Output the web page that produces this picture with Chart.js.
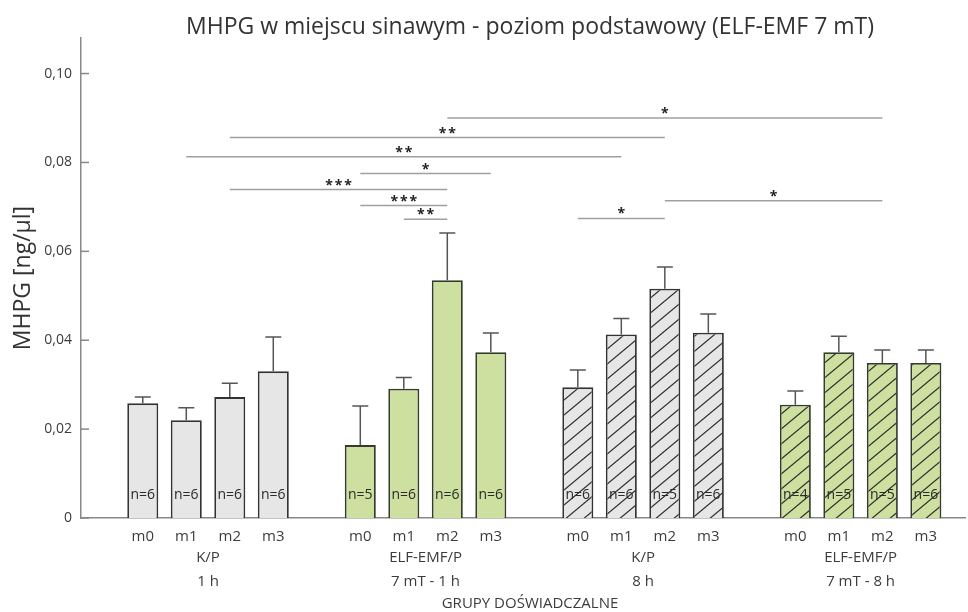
<!DOCTYPE html>
<html>
<head>
<meta charset="utf-8">
<script src="https://cdn.jsdelivr.net/npm/chart.js@4"></script>
<style>
  html, body { margin: 0; background: #fff; }
  #wrap { width: 968px; height: 612px; }
</style>
</head>
<body>
<div id="wrap"><canvas id="chartMHPG"></canvas></div>
<script>
// dane
const podgrupy = ['m0', 'm1', 'm2', 'm3'];
const grupyNazwy = ['K/P', 'ELF-EMF/P', 'K/P', 'ELF-EMF/P'];
const grupyCzas = ['1 h', '7 mT - 1 h', '8 h', '7 mT - 8 h'];

const sredniaKP1 = [0.0258, 0.0220, 0.0272, 0.0330];
const sredniaEMF1 = [0.0164, 0.0291, 0.0535, 0.0373];
const sredniaKP8 = [0.0294, 0.0413, 0.0516, 0.0417];
const sredniaEMF8 = [0.0255, 0.0373, 0.0349, 0.0349];

const sdKP1 = [0.0014, 0.0028, 0.0031, 0.0077];
const sdEMF1 = [0.0088, 0.0025, 0.0106, 0.0043];
const sdKP8 = [0.0039, 0.0036, 0.0049, 0.0042];
const sdEMF8 = [0.0031, 0.0036, 0.0029, 0.0029];

const nKP1 = [6, 6, 6, 6];
const nEMF1 = [5, 6, 6, 6];
const nKP8 = [6, 6, 5, 6];
const nEMF8 = [4, 5, 5, 6];

const yTicks = [0, 0.02, 0.04, 0.06, 0.08, 0.10];

// istotnosc: [grupa, podgrupa] od - do
const istotnoscOd = [[1, 2], [0, 2], [0, 1], [1, 0], [0, 2], [1, 0], [1, 1], [2, 2], [2, 0]];
const istotnoscDo = [[3, 2], [2, 2], [2, 1], [1, 3], [1, 2], [1, 2], [1, 2], [3, 2], [2, 2]];
const istotnoscPoziom = [0.0900, 0.0856, 0.0813, 0.0775, 0.0739, 0.0703, 0.0672, 0.0714, 0.0674];
const istotnoscZnak = ['*', '**', '**', '*', '***', '***', '**', '*', '*'];

const FONT = '"Open Sans", "DejaVu Sans", sans-serif';
const slot = (g, k) => g * 5 + k;

function kreskowanie(kolor) {
    const w = 18, h = 15;
    const c = document.createElement('canvas');
    c.width = w; c.height = h;
    const ctx = c.getContext('2d');
    ctx.fillStyle = kolor;
    ctx.fillRect(0, 0, w, h);
    ctx.strokeStyle = '#2a2a2a';
    ctx.lineWidth = 1.2;
    for (let k = -1; k <= 1; k++) {
        ctx.beginPath();
        ctx.moveTo(-1, h + k * h + h / w);
        ctx.lineTo(w + 1, k * h - h / w);
        ctx.stroke();
    }
    return document.createElement('canvas').getContext('2d').createPattern(c, 'repeat');
}

const serie = [
    { mean: sredniaKP1, sd: sdKP1, n: nKP1, fill: '#e6e6e6', border: '#333', hatch: false },
    { mean: sredniaEMF1, sd: sdEMF1, n: nEMF1, fill: '#cde0a0', border: '#343b2e', hatch: false },
    { mean: sredniaKP8, sd: sdKP8, n: nKP8, fill: '#e6e6e6', border: '#333', hatch: true },
    { mean: sredniaEMF8, sd: sdEMF8, n: nEMF8, fill: '#cde0a0', border: '#343b2e', hatch: true }
];

const xSloty = [];
serie.forEach((s, g) => s.mean.forEach((_, k) => xSloty.push(slot(g, k))));

const dodatki = {
    id: 'dodatki',
    afterDatasetsDraw(chart) {
        const { ctx, scales: { x, y } } = chart;
        ctx.save();
        // slupki bledow
        ctx.strokeStyle = '#555';
        ctx.lineWidth = 1.5;
        serie.forEach((s, g) => s.mean.forEach((v, k) => {
            const px = x.getPixelForValue(slot(g, k));
            const y0 = y.getPixelForValue(v);
            const y1 = y.getPixelForValue(v + s.sd[k]);
            ctx.beginPath();
            ctx.moveTo(px, y0); ctx.lineTo(px, y1);
            ctx.moveTo(px - 8, y1); ctx.lineTo(px + 8, y1);
            ctx.stroke();
        }));
        // liczebnosc
        ctx.fillStyle = '#2a2a2a';
        ctx.font = '14px ' + FONT;
        ctx.textAlign = 'center';
        ctx.textBaseline = 'middle';
        serie.forEach((s, g) => s.n.forEach((n, k) => {
            ctx.fillText('n=' + n, x.getPixelForValue(slot(g, k)), 495);
        }));
        ctx.restore();
    },
    afterDraw(chart) {
        const { ctx, chartArea, scales: { x, y } } = chart;
        ctx.save();
        // znaczniki osi Y do wewnatrz
        ctx.strokeStyle = '#888';
        ctx.lineWidth = 1.5;
        yTicks.forEach(v => {
            const py = y.getPixelForValue(v);
            ctx.beginPath();
            ctx.moveTo(chartArea.left, py); ctx.lineTo(chartArea.left + 8, py);
            ctx.stroke();
        });
        // linie istotnosci
        ctx.strokeStyle = '#a0a0a0';
        ctx.lineWidth = 1.5;
        ctx.fillStyle = '#222';
        ctx.font = 'bold 14px ' + FONT;
        ctx.textAlign = 'center';
        ctx.textBaseline = 'middle';
        istotnoscPoziom.forEach((v, i) => {
            const a = x.getPixelForValue(slot(...istotnoscOd[i]));
            const b = x.getPixelForValue(slot(...istotnoscDo[i]));
            const py = y.getPixelForValue(v);
            ctx.beginPath();
            ctx.moveTo(a, py); ctx.lineTo(b, py);
            ctx.stroke();
            const znak = istotnoscZnak[i];
            const sr = (a + b) / 2;
            for (let j = 0; j < znak.length; j++) {
                ctx.fillText('*', sr + (j - (znak.length - 1) / 2) * 9.5, py - 4);
            }
        });
        // podpisy grup
        ctx.fillStyle = '#3c3c3c';
        ctx.font = '15px ' + FONT;
        grupyNazwy.forEach((nazwa, g) => {
            const px = x.getPixelForValue(slot(g, 1.5));
            ctx.fillText(nazwa, px, 558);
            ctx.fillText(grupyCzas[g], px, 582);
        });
        ctx.fillText('GRUPY DOŚWIADCZALNE', 530, 604);
        // tytul
        ctx.fillStyle = '#333';
        ctx.font = '23px ' + FONT;
        ctx.fillText('MHPG w miejscu sinawym - poziom podstawowy (ELF-EMF 7 mT)', 530, 27);
        ctx.restore();
    }
};

new Chart(document.getElementById('chartMHPG'), {
    type: 'bar',
    data: {
        datasets: serie.map((s, g) => ({
            data: s.mean.map((v, k) => ({ x: slot(g, k), y: v })),
            backgroundColor: s.hatch ? kreskowanie(s.fill) : s.fill,
            borderColor: s.border,
            borderWidth: 1.8,
            grouped: false,
            barPercentage: 0.713,
            categoryPercentage: 1
        }))
    },
    options: {
        responsive: true,
        maintainAspectRatio: false,
        animation: false,
        layout: { padding: { top: 38, right: 3, left: 0, bottom: 0 } },
        plugins: {
            legend: { display: false },
            title: { display: false },
            tooltip: { enabled: false }
        },
        scales: {
            x: {
                type: 'linear',
                offset: false,
                min: -1.42,
                max: 18.9,
                grid: { display: false, drawTicks: false },
                border: { display: true, color: '#888', width: 1.5 },
                afterBuildTicks: scale => { scale.ticks = xSloty.map(v => ({ value: v })); },
                afterFit: scale => { scale.height = 94; },
                ticks: {
                    autoSkip: false,
                    maxRotation: 0,
                    minRotation: 0,
                    padding: 10,
                    color: '#3c3c3c',
                    font: { family: FONT, size: 15 },
                    callback: (val, i) => podgrupy[i % 4]
                }
            },
            y: {
                min: 0,
                max: 0.108,
                grid: { display: false, drawTicks: false },
                border: { display: true, color: '#888', width: 1.5 },
                afterBuildTicks: scale => { scale.ticks = yTicks.map(v => ({ value: v })); },
                afterFit: scale => { scale.width = 81; },
                title: {
                    display: true,
                    text: 'MHPG [ng/µl]',
                    color: '#333',
                    font: { family: FONT, size: 23 },
                    padding: { top: 10, bottom: 0 }
                },
                ticks: {
                    padding: 9,
                    color: '#3c3c3c',
                    font: { family: FONT, size: 14 },
                    callback: v => v === 0 ? '0' : v.toFixed(2).replace('.', ',')
                }
            }
        }
    },
    plugins: [dodatki]
});
</script>
</body>
</html>
